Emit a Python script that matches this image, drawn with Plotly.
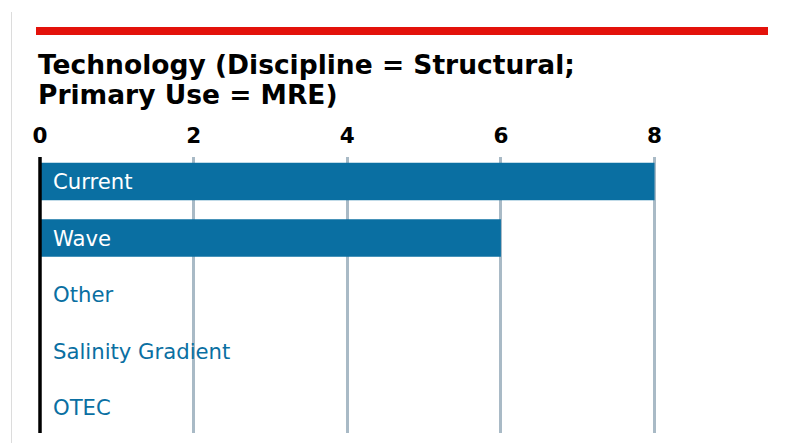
import plotly.graph_objects as go

# Counts per technology
categories = ["Current", "Wave", "Other", "Salinity Gradient", "OTEC"]
counts = [8, 6, 0, 0, 0]
tick_values = [0, 2, 4, 6, 8]
tick_labels = ["0", "2", "4", "6", "8"]

title_lines = ["Technology (Discipline = Structural;", "Primary Use = MRE)"]

BAR_BLUE = "#0a6fa2"
RED = "#e3120b"
GRID = "#a9bac6"
FONT = "DejaVu Sans"

W, H = 812, 443
L, R, T, B = 40, 43, 157, 10
plot_w = W - L - R
plot_h = H - T - B


def px_to_paper_x(px):
    return (px - L) / plot_w


def px_to_paper_y(py):
    return (H - B - py) / plot_h


fig = go.Figure()
fig.add_trace(go.Bar(
    x=counts,
    y=categories,
    orientation="h",
    marker=dict(color=BAR_BLUE, line=dict(width=0)),
    hoverinfo="skip",
    showlegend=False,
))

# Category labels drawn at the start of each bar
for cat, val in zip(categories, counts):
    fig.add_annotation(
        x=0, y=cat, xref="x", yref="y",
        text=cat, showarrow=False,
        xanchor="left", yanchor="middle", xshift=11,
        font=dict(family=FONT, size=21.2, color="white" if val > 0 else BAR_BLUE),
    )

# Title, one annotation per line for tight line spacing
for i, line in enumerate(title_lines):
    fig.add_annotation(
        x=px_to_paper_x(36), y=px_to_paper_y(47.5 + 29.5 * i),
        xref="paper", yref="paper",
        text="<b>" + line + "</b>", showarrow=False,
        xanchor="left", yanchor="top", align="left",
        font=dict(family=FONT, size=26.5, color="black"),
    )

shapes = [
    # red header rule
    dict(type="rect", xref="paper", yref="paper",
         x0=px_to_paper_x(36), x1=px_to_paper_x(768),
         y0=px_to_paper_y(35), y1=px_to_paper_y(27),
         fillcolor=RED, line=dict(width=0), layer="above"),
    # thin page edge line
    dict(type="line", xref="paper", yref="paper",
         x0=px_to_paper_x(11.5), x1=px_to_paper_x(11.5),
         y0=px_to_paper_y(12), y1=px_to_paper_y(443),
         line=dict(color="#dcdcdc", width=1)),
    # zero baseline
    dict(type="line", xref="paper", yref="paper",
         x0=0, x1=0, y0=0, y1=1,
         line=dict(color="black", width=3.5), layer="above"),
]
fig.update_layout(shapes=shapes)

fig.update_layout(
    width=W, height=H,
    margin=dict(l=L, r=R, t=T, b=B),
    paper_bgcolor="white",
    plot_bgcolor="white",
    bargap=0.335,
    font=dict(family=FONT),
    xaxis=dict(
        side="top",
        range=[0, 9.49],
        tickvals=tick_values,
        ticktext=tick_labels,
        tickfont=dict(family=FONT, size=21.5, color="black", weight="bold"),
        showgrid=True, gridcolor=GRID, gridwidth=3,
        zeroline=False, showline=False, ticks="",
        ticklabelstandoff=9,
    ),
    yaxis=dict(
        categoryorder="array", categoryarray=categories,
        range=[4.45, -0.434],
        showticklabels=False, showgrid=False, zeroline=False,
        showline=False, ticks="",
    ),
)

fig.write_html("out.html")
